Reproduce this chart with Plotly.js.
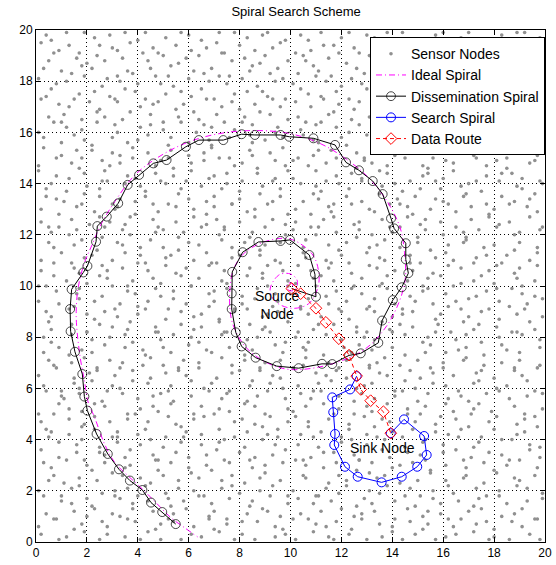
<!DOCTYPE html>
<html>
<head>
<meta charset="utf-8">
<script src="https://cdn.plot.ly/plotly-3.0.1.min.js"></script>
<style>html,body{margin:0;padding:0;background:#fff;}#chart{width:556px;height:565px;}</style>
</head>
<body>
<div id="chart"></div>
<script>
// Sensor nodes (one line per row of the field, bottom to top)
const sensorX = [
0.2,0.9,1.2,1.9,2.5,2.8,3.5,4.1,4.4,4.9,5.7,6.1,6.5,7.2,7.8,8.1,8.6,9.4,9.8,10.2,10.9,11.5,11.7,12.3,13.0,13.6,14.0,14.4,14.9,15.7,16.1,16.5,17.2,17.8,18.0,18.6,19.4,19.8,
0.1,0.8,1.5,1.8,2.6,2.8,3.6,3.9,4.7,4.9,5.4,6.2,6.8,7.0,7.5,8.1,8.7,9.4,9.7,10.1,11.0,11.4,11.8,12.4,12.8,13.5,14.0,14.7,15.2,15.4,16.2,16.4,17.3,17.7,18.0,18.7,19.1,19.7,
0.4,0.7,1.5,2.0,2.3,3.0,3.3,3.8,4.6,5.2,5.4,5.9,6.8,7.0,7.5,8.3,8.9,9.1,9.6,10.4,10.7,11.2,12.0,12.5,12.8,13.3,14.1,14.6,15.2,15.4,15.9,16.7,17.0,17.5,18.3,18.8,19.1,19.6,
0.3,1.0,1.4,2.0,2.2,3.1,3.3,3.8,4.4,5.2,5.3,5.8,6.6,6.9,7.6,8.4,8.5,9.2,9.9,10.3,10.9,11.1,11.6,12.6,12.9,13.2,14.1,14.5,14.9,15.6,15.9,16.6,17.2,17.4,18.2,18.5,19.3,19.9,
0.1,1.0,1.4,1.7,2.6,3.1,3.6,4.0,4.3,5.1,5.6,6.2,6.4,7.3,7.7,8.0,8.8,9.3,9.9,10.1,11.0,11.4,11.9,12.2,13.1,13.5,13.8,14.7,15.1,15.6,16.2,16.4,17.3,17.7,18.2,18.9,19.3,19.9,
0.5,0.7,1.1,1.7,2.4,3.0,3.4,4.1,4.5,5.0,5.6,6.1,6.4,7.3,7.7,8.2,8.8,9.0,9.6,10.5,10.6,11.5,11.9,12.2,13.1,13.4,13.7,14.3,15.0,15.5,16.1,16.8,16.9,17.6,18.1,18.8,19.0,19.6,
0.3,0.6,1.2,2.0,2.2,2.7,3.5,3.7,4.7,4.8,5.3,6.0,6.7,6.9,7.6,8.4,8.5,9.0,9.7,10.5,10.6,11.3,11.8,12.6,12.7,13.2,14.0,14.3,14.8,15.5,16.1,16.8,16.9,17.6,18.0,18.5,19.0,19.7,
0.2,0.9,1.6,1.9,2.5,2.7,3.5,3.7,4.6,4.8,5.5,6.0,6.7,7.1,7.4,8.0,8.6,9.3,9.8,10.2,10.8,11.3,11.7,12.5,12.7,13.6,13.9,14.6,15.1,15.3,16.0,16.5,17.1,17.8,18.3,18.6,19.4,19.8,
0.5,0.9,1.6,1.8,2.5,3.0,3.2,4.1,4.5,5.0,5.7,5.8,6.5,7.2,7.4,8.2,8.9,9.4,9.5,10.3,10.9,11.1,12.0,12.4,13.0,13.4,13.7,14.5,15.2,15.3,16.0,16.6,17.2,17.4,18.3,18.7,19.4,19.8,
0.4,0.6,1.3,1.8,2.3,3.2,3.2,4.0,4.3,5.1,5.7,5.9,6.5,7.2,7.8,8.3,8.9,9.1,9.5,10.4,10.7,11.2,12.0,12.3,13.0,13.3,14.0,14.4,14.8,15.7,16.2,16.7,17.0,17.5,18.0,18.9,19.2,19.7,
0.2,0.7,1.3,1.9,2.3,2.9,3.6,3.9,4.4,5.2,5.5,6.2,6.6,7.0,7.8,8.1,8.6,9.2,9.9,10.2,10.7,11.5,11.7,12.3,12.9,13.6,13.9,14.6,14.9,15.7,15.9,16.5,17.1,17.8,18.1,18.9,19.2,19.6,
0.1,0.9,1.3,1.8,2.3,2.7,3.6,4.1,4.6,4.8,5.3,6.2,6.5,7.2,7.6,8.2,8.6,9.0,9.9,10.1,10.6,11.3,11.9,12.5,13.0,13.2,13.8,14.6,15.1,15.3,16.1,16.4,17.2,17.4,17.9,18.8,19.2,19.9,
0.4,1.0,1.1,1.7,2.6,2.8,3.4,4.0,4.6,4.9,5.4,6.1,6.8,7.3,7.5,8.3,8.7,9.1,9.8,10.4,10.8,11.2,11.9,12.5,12.8,13.3,14.1,14.4,15.0,15.4,16.2,16.7,17.0,17.7,18.2,18.6,19.3,19.9,
0.3,1.0,1.5,1.7,2.2,3.0,3.3,3.8,4.4,5.2,5.3,6.1,6.6,6.9,7.6,8.4,8.5,9.2,9.7,10.3,10.9,11.1,11.6,12.6,12.9,13.2,14.1,14.5,14.9,15.6,16.1,16.6,17.2,17.4,18.1,18.5,19.3,19.6,
0.1,0.8,1.5,2.1,2.4,3.1,3.3,3.8,4.5,5.1,5.6,5.9,6.4,7.1,7.7,8.0,8.8,9.3,9.6,10.1,11.0,11.4,11.8,12.2,13.1,13.5,13.8,14.7,15.1,15.6,16.0,16.4,17.3,17.5,18.0,18.8,19.1,19.7,
0.5,0.7,1.4,1.9,2.4,2.9,3.4,4.2,4.5,5.0,5.6,5.8,6.4,7.3,7.7,8.2,8.8,9.0,9.6,10.5,10.6,11.5,11.9,12.2,13.1,13.4,13.7,14.3,15.0,15.5,16.0,16.8,16.9,17.6,18.3,18.8,19.0,19.8,
0.3,0.9,1.3,1.8,2.2,2.7,3.5,4.2,4.3,5.0,5.3,6.0,6.7,6.9,7.6,8.2,8.5,9.4,9.7,10.5,10.6,11.3,12.1,12.4,12.7,13.2,14.0,14.5,15.3,15.5,16.1,16.6,16.9,17.6,18.3,18.5,19.0,19.8,
0.3,0.6,1.4,2.0,2.2,2.9,3.5,3.8,4.7,4.9,5.4,6.1,6.4,7.3,7.5,8.3,8.7,9.2,9.8,10.2,10.7,11.4,12.0,12.6,12.9,13.3,14.0,14.5,15.2,15.4,16.3,16.5,16.9,17.5,18.2,18.9,19.1,19.8,
0.5,0.6,1.4,2.0,2.5,3.0,3.6,3.7,4.7,4.8,5.7,6.2,6.5,7.2,7.4,8.4,8.9,9.0,9.9,10.3,10.9,11.1,11.7,12.6,13.0,13.6,13.9,14.3,14.8,15.7,15.8,16.8,17.2,17.4,18.1,18.7,19.4,19.6,
0.4,0.6,1.3,2.0,2.3,2.7,3.2,4.0,4.3,5.1,5.7,6.2,6.5,7.2,7.8,8.3,8.9,9.1,9.5,10.4,10.7,11.2,12.0,12.3,13.0,13.3,14.0,14.4,14.8,15.7,15.9,16.7,17.0,17.5,18.2,18.9,19.2,19.9,
0.1,0.9,1.5,1.7,2.3,3.1,3.3,4.0,4.4,5.2,5.4,5.9,6.8,7.0,7.8,8.1,8.6,9.3,9.5,10.4,10.7,11.5,11.9,12.2,13.1,13.3,14.1,14.4,14.9,15.6,16.2,16.5,17.0,17.8,18.2,18.6,19.3,19.9,
0.1,0.8,1.6,1.7,2.6,3.0,3.6,3.9,4.7,4.9,5.4,6.1,6.8,7.0,7.5,8.1,8.7,9.4,9.9,10.1,11.0,11.4,11.8,12.4,12.8,13.5,13.8,14.7,15.2,15.4,16.1,16.4,17.3,17.7,18.1,18.7,19.1,19.6,
0.4,0.7,1.2,2.0,2.5,2.8,3.6,3.8,4.6,4.9,5.7,6.1,6.4,7.3,7.5,8.3,8.9,9.1,9.9,10.2,10.9,11.2,11.7,12.5,12.8,13.6,13.8,14.6,15.2,15.4,15.9,16.7,17.2,17.5,18.0,18.9,19.1,19.6,
0.2,0.7,1.5,1.7,2.6,2.8,3.4,4.0,4.4,5.1,5.5,5.9,6.8,7.1,7.4,8.4,8.9,9.1,9.7,10.3,10.8,11.5,11.6,12.4,13.1,13.4,14.1,14.7,14.8,15.6,16.2,16.7,17.2,17.8,18.1,18.8,19.0,19.7,
0.2,1.0,1.4,1.9,2.2,3.0,3.5,4.1,4.3,5.1,5.3,6.2,6.7,6.9,7.7,8.0,8.8,9.4,9.6,10.5,10.6,11.4,12.0,12.3,13.0,13.5,13.7,14.7,15.1,15.7,16.1,16.4,17.3,17.7,18.3,18.5,19.4,19.7,
0.5,0.7,1.5,1.8,2.4,3.2,3.4,4.1,4.5,5.0,5.6,6.0,6.4,7.3,7.7,8.2,8.8,9.0,9.6,10.5,10.6,11.5,11.9,12.2,13.1,13.4,13.7,14.3,15.0,15.5,16.2,16.8,16.9,17.6,18.0,18.8,19.0,19.7,
0.5,0.6,1.3,1.6,2.6,2.7,3.4,3.7,4.7,5.0,5.6,5.8,6.5,7.2,7.4,8.4,8.5,9.0,9.8,10.1,11.0,11.1,11.8,12.6,12.7,13.2,14.0,14.3,15.0,15.3,16.0,16.8,16.9,17.4,18.1,18.8,19.0,19.8,
0.2,0.9,1.4,2.1,2.5,2.9,3.5,3.7,4.6,4.8,5.5,6.2,6.7,7.1,7.4,8.0,8.6,9.3,9.8,10.2,10.8,11.3,11.7,12.5,12.7,13.6,13.9,14.6,15.1,15.3,15.9,16.5,17.1,17.8,18.2,18.6,19.4,19.9,
0.2,0.9,1.6,1.8,2.3,3.1,3.2,3.9,4.6,4.8,5.5,6.2,6.7,7.0,7.7,8.3,8.6,9.1,9.9,10.2,10.8,11.5,11.6,12.4,13.1,13.3,13.9,14.6,14.8,15.5,16.2,16.5,17.1,17.8,18.0,18.6,19.3,19.7,
0.4,0.8,1.1,1.9,2.5,3.0,3.3,3.9,4.3,5.2,5.6,6.0,6.7,7.0,7.7,8.0,8.8,9.3,9.6,10.5,10.9,11.1,11.7,12.2,12.8,13.5,14.2,14.3,14.9,15.7,16.0,16.8,16.9,17.7,18.3,18.8,19.4,19.6,
0.4,0.6,1.2,2.0,2.5,2.8,3.5,4.1,4.3,5.1,5.7,5.9,6.5,7.3,7.5,8.0,8.9,9.3,9.6,10.4,11.0,11.2,11.9,12.3,12.8,13.6,14.1,14.4,15.1,15.7,15.9,16.7,17.0,17.5,18.2,18.9,19.1,19.9,
0.1,0.8,1.3,1.9,2.6,2.7,3.6,3.9,4.7,4.9,5.4,6.1,6.8,7.0,7.5,8.1,8.7,9.4,9.9,10.1,11.0,11.4,11.8,12.4,12.8,13.5,13.8,14.7,15.2,15.4,16.0,16.4,17.3,17.7,18.3,18.7,19.1,19.8,
0.1,0.8,1.4,1.7,2.6,2.9,3.3,3.8,4.7,4.9,5.4,6.1,6.6,7.2,7.8,8.1,8.7,9.4,9.8,10.1,10.7,11.4,11.8,12.6,12.9,13.2,13.8,14.5,15.2,15.4,16.1,16.4,17.3,17.7,18.1,18.5,19.4,19.6,
0.3,1.0,1.6,1.8,2.2,3.0,3.3,3.8,4.4,5.2,5.3,6.0,6.6,6.9,7.6,8.4,8.5,9.2,9.7,10.3,10.9,11.1,11.6,12.6,12.9,13.2,14.1,14.5,14.9,15.6,16.2,16.6,17.2,17.4,18.0,18.5,19.3,19.7,
0.3,1.0,1.5,1.9,2.2,3.0,3.6,4.0,4.4,5.2,5.3,6.0,6.8,6.9,7.6,8.4,8.5,9.0,9.7,10.5,10.9,11.1,12.0,12.2,13.0,13.5,14.0,14.7,14.9,15.6,16.0,16.8,17.2,17.4,18.3,18.7,19.0,19.8,
0.1,1.0,1.2,1.8,2.4,3.1,3.2,4.1,4.5,5.0,5.7,6.3,6.6,6.9,7.8,8.1,8.5,9.4,9.5,10.4,11.0,11.2,11.8,12.3,12.7,13.6,13.8,14.4,15.0,15.5,15.8,16.6,17.2,17.6,18.0,18.9,19.3,19.5,
0.5,0.7,1.1,1.8,2.4,2.7,3.4,3.7,4.5,5.0,5.6,6.2,6.4,7.1,7.4,8.2,8.8,9.2,9.9,10.3,10.6,11.5,11.7,12.4,13.1,13.4,13.7,14.3,15.0,15.5,16.2,16.6,16.9,17.6,18.0,18.8,19.3,19.7,
0.2,0.9,1.3,2.1,2.5,3.1,3.2,4.1,4.6,4.8,5.5,5.8,6.7,7.3,7.7,8.0,8.6,9.3,9.6,10.2,10.8,11.3,11.9,12.5,12.7,13.6,14.1,14.6,15.1,15.3,15.9,16.5,17.1,17.8,18.2,18.6,19.2,19.9,
0.4,0.6,1.5,1.7,2.3,2.9,3.5,3.9,4.3,5.1,5.7,6.1,6.5,7.0,7.8,8.3,8.9,9.1,9.8,10.4,10.7,11.2,11.8,12.3,13.0,13.3,13.9,14.4,14.8,15.7,16.1,16.7,17.0,17.5,18.1,18.9,19.4,19.6,
0.1,0.8,1.2,1.9,2.6,2.8,3.3,4.0,4.7,4.9,5.4,6.0,6.8,7.2,7.5,8.1,8.7,9.4,9.7,10.1,11.0,11.4,12.0,12.4,12.8,13.5,13.8,14.7,15.2,15.4,16.0,16.4,17.3,17.7,18.3,18.5,19.1,19.8,
0.3,1.0,1.4,1.8,2.2,3.2,3.6,3.8,4.5,5.2,5.3,6.2,6.6,6.9,7.6,8.4,8.5,9.2,9.5,10.3,10.9,11.1,11.6,12.6,12.9,13.2,14.0,14.5,14.9,15.6,16.2,16.6,17.2,17.4,18.0,18.7,19.3,19.7,
0.5,0.7,1.6,2.0,2.4,2.7,3.4,4.2,4.4,5.0,5.6,5.9,6.4,7.3,7.7,8.2,8.8,9.0,9.9,10.5,10.6,11.5,11.9,12.2,13.1,13.4,14.1,14.3,15.0,15.5,15.9,16.8,16.9,17.6,18.2,18.8,19.0,19.9,
0.2,0.9,1.3,1.7,2.5,3.0,3.2,3.7,4.6,4.8,5.5,6.1,6.7,7.1,7.4,8.0,8.6,9.3,9.6,10.2,10.8,11.3,11.7,12.5,12.7,13.6,13.9,14.6,15.1,15.3,16.1,16.5,17.1,17.8,18.1,18.6,19.4,19.6,
0.4,0.6,1.2,1.9,2.3,2.9,3.5,4.0,4.3,5.1,5.7,6.0,6.5,7.2,7.8,8.3,8.9,9.1,9.8,10.4,10.7,11.2,12.0,12.3,13.0,13.3,13.8,14.4,14.8,15.7,16.0,16.7,17.0,17.5,18.3,18.9,19.2,19.8
];
const sensorY = [
0.3,0.1,0.2,0.4,0.1,0.3,0.2,0.1,0.4,0.1,0.1,0.3,0.2,0.4,0.1,0.3,0.1,0.2,0.3,0.1,0.4,0.2,0.1,0.3,0.1,0.2,0.4,0.1,0.3,0.1,0.2,0.3,0.4,0.1,0.2,0.1,0.3,0.1,
0.6,0.9,0.5,0.7,0.8,0.6,0.9,0.8,0.5,0.7,0.8,0.6,0.9,0.5,0.7,0.8,0.8,0.6,0.5,0.9,0.7,0.6,0.8,0.5,0.9,0.7,0.6,0.8,0.5,0.7,0.9,0.6,0.7,0.8,0.5,0.8,0.6,0.9,
1.1,0.9,1.2,1.0,1.3,1.1,1.0,1.3,1.2,0.9,1.1,1.3,1.0,1.2,0.9,1.1,1.3,1.2,1.0,1.1,0.9,1.2,1.3,1.0,1.1,1.2,0.9,1.3,1.0,1.2,1.1,0.9,1.2,1.3,1.0,1.1,1.3,0.9,
1.8,1.6,1.5,1.7,1.4,1.8,1.7,1.5,1.6,1.7,1.4,1.6,1.8,1.5,1.7,1.4,1.6,1.8,1.5,1.7,1.5,1.8,1.6,1.4,1.7,1.5,1.6,1.8,1.4,1.7,1.5,1.6,1.4,1.7,1.8,1.5,1.6,1.7,
2.0,1.8,2.1,2.2,1.9,2.0,2.1,1.8,2.2,1.9,2.1,2.0,1.8,2.1,2.2,1.9,2.0,2.2,1.8,2.0,1.8,2.1,1.9,2.2,2.0,1.9,2.2,2.1,1.8,2.0,2.2,1.9,2.1,1.8,2.0,2.2,2.1,1.9,
2.4,2.6,2.3,2.5,2.4,2.7,2.6,2.5,2.3,2.6,2.4,2.7,2.5,2.4,2.6,2.3,2.5,2.7,2.4,2.6,2.5,2.3,2.6,2.4,2.7,2.5,2.6,2.3,2.4,2.7,2.4,2.5,2.6,2.3,2.7,2.5,2.4,2.6,
3.1,2.9,3.2,3.0,2.8,3.1,2.9,3.0,3.2,2.8,3.1,2.9,3.0,2.8,3.1,3.2,2.9,3.0,3.1,3.2,3.0,2.9,3.1,2.8,3.2,3.1,2.9,3.0,3.1,2.8,3.0,3.2,2.9,3.1,2.8,3.0,3.2,2.9,
3.6,3.3,3.5,3.2,3.5,3.4,3.3,3.6,3.4,3.2,3.5,3.3,3.4,3.6,3.2,3.5,3.3,3.4,3.6,3.2,3.3,3.5,3.5,3.4,3.2,3.6,3.3,3.5,3.4,3.2,3.5,3.6,3.3,3.5,3.4,3.2,3.6,3.3,
4.1,3.9,3.8,4.0,3.7,4.1,3.9,3.8,4.0,3.7,3.9,4.1,3.8,3.9,4.0,3.7,4.0,3.8,4.1,3.8,4.1,3.7,3.9,4.0,3.8,4.1,4.0,3.7,3.9,4.0,3.8,4.1,3.7,3.9,4.0,4.0,3.8,3.7,
4.4,4.3,4.2,4.5,4.4,4.1,4.3,4.2,4.4,4.1,4.5,4.3,4.2,4.4,4.1,4.3,4.5,4.2,4.4,4.2,4.5,4.3,4.1,4.4,4.2,4.5,4.3,4.1,4.4,4.3,4.2,4.4,4.5,4.1,4.4,4.2,4.3,4.5,
4.7,5.0,4.8,4.6,4.9,4.7,4.8,5.0,4.7,4.9,4.6,4.8,4.9,5.0,4.7,4.8,4.6,4.9,4.7,4.9,4.7,4.8,5.0,4.6,4.9,4.8,4.7,5.0,4.7,4.6,4.9,4.8,5.0,4.7,4.9,4.6,4.8,4.9,
5.0,5.4,5.2,5.1,5.4,5.3,5.0,5.2,5.3,5.1,5.4,5.0,5.3,5.2,5.1,5.4,5.3,5.0,5.2,5.1,5.3,5.4,5.2,5.0,5.3,5.1,5.4,5.2,5.0,5.3,5.4,5.1,5.2,5.4,5.1,5.3,5.0,5.2,
5.9,5.7,5.6,5.8,5.5,5.9,5.8,5.6,5.7,5.8,5.5,5.7,5.9,5.6,5.8,5.5,5.7,5.9,5.6,5.8,5.6,5.9,5.7,5.5,5.8,5.6,5.7,5.9,5.5,5.8,5.6,5.7,5.5,5.8,5.9,5.6,5.7,5.8,
6.1,5.9,6.2,6.0,6.3,6.1,6.0,6.3,6.2,5.9,6.1,6.3,6.0,6.2,5.9,6.1,6.3,6.2,6.0,6.1,5.9,6.2,6.3,6.0,6.1,6.2,5.9,6.3,6.0,6.2,6.1,5.9,6.2,6.3,6.0,6.1,6.3,5.9,
6.5,6.8,6.4,6.6,6.7,6.5,6.8,6.7,6.4,6.6,6.7,6.5,6.8,6.4,6.6,6.7,6.7,6.5,6.4,6.8,6.6,6.5,6.7,6.4,6.8,6.6,6.5,6.7,6.4,6.6,6.8,6.5,6.6,6.7,6.4,6.7,6.5,6.8,
7.1,6.9,7.0,7.2,6.8,7.1,7.0,6.9,7.2,6.9,6.8,7.1,7.0,7.2,6.9,7.1,6.8,7.0,7.1,6.9,7.2,7.0,6.8,7.1,6.9,7.0,7.2,6.9,7.1,6.8,7.0,7.1,7.2,6.9,7.0,6.8,7.1,6.9,
7.4,7.6,7.3,7.5,7.4,7.7,7.6,7.5,7.3,7.6,7.4,7.7,7.5,7.4,7.6,7.3,7.5,7.7,7.4,7.6,7.5,7.3,7.6,7.4,7.7,7.5,7.6,7.3,7.4,7.7,7.4,7.5,7.6,7.3,7.7,7.5,7.4,7.6,
8.0,7.8,8.1,8.2,7.9,8.0,8.1,7.8,8.2,7.9,8.1,8.0,7.8,8.1,8.2,7.9,8.0,8.2,7.8,8.0,7.8,8.1,7.9,8.2,8.0,7.9,8.2,8.1,7.8,8.0,8.2,7.9,8.1,7.8,8.0,8.2,8.1,7.9,
8.6,8.3,8.5,8.2,8.5,8.4,8.3,8.6,8.4,8.2,8.5,8.3,8.4,8.6,8.2,8.5,8.3,8.4,8.6,8.2,8.3,8.5,8.5,8.4,8.2,8.6,8.3,8.5,8.4,8.2,8.5,8.6,8.3,8.5,8.4,8.2,8.6,8.3,
9.0,8.8,9.1,8.9,8.7,9.0,8.8,8.9,9.1,8.7,9.0,8.8,8.9,8.7,9.0,9.1,8.8,8.9,9.0,9.1,8.9,8.8,9.0,8.7,9.1,9.0,8.8,8.9,9.0,8.7,8.9,9.1,8.8,9.0,8.7,8.9,9.1,8.8,
9.4,9.3,9.2,9.5,9.4,9.1,9.3,9.2,9.4,9.1,9.5,9.3,9.2,9.4,9.1,9.3,9.5,9.2,9.4,9.2,9.5,9.3,9.1,9.4,9.2,9.5,9.3,9.1,9.4,9.3,9.2,9.4,9.5,9.1,9.4,9.2,9.3,9.5,
10.0,9.8,9.7,9.9,9.6,10.0,9.8,9.7,9.9,9.6,9.8,10.0,9.7,9.8,9.9,9.6,9.9,9.7,10.0,9.7,10.0,9.6,9.8,9.9,9.7,10.0,9.9,9.6,9.8,9.9,9.7,10.0,9.6,9.8,9.9,9.9,9.7,9.6,
10.0,10.4,10.2,10.1,10.4,10.3,10.0,10.2,10.3,10.1,10.4,10.0,10.3,10.2,10.1,10.4,10.3,10.0,10.2,10.1,10.3,10.4,10.2,10.0,10.3,10.1,10.4,10.2,10.0,10.3,10.4,10.1,10.2,10.4,10.1,10.3,10.0,10.2,
10.6,10.9,10.7,10.5,10.8,10.6,10.7,10.9,10.6,10.8,10.5,10.7,10.8,10.9,10.6,10.7,10.5,10.8,10.6,10.8,10.6,10.7,10.9,10.5,10.8,10.7,10.6,10.9,10.6,10.5,10.8,10.7,10.9,10.6,10.8,10.5,10.7,10.8,
11.0,11.3,10.9,11.1,11.2,11.0,11.3,11.2,10.9,11.1,11.2,11.0,11.3,10.9,11.1,11.2,11.2,11.0,10.9,11.3,11.1,11.0,11.2,10.9,11.3,11.1,11.0,11.2,10.9,11.1,11.3,11.0,11.1,11.2,10.9,11.2,11.0,11.3,
11.7,11.5,11.6,11.8,11.4,11.7,11.6,11.5,11.8,11.5,11.4,11.7,11.6,11.8,11.5,11.7,11.4,11.6,11.7,11.5,11.8,11.6,11.4,11.7,11.5,11.6,11.8,11.5,11.7,11.4,11.6,11.7,11.8,11.5,11.6,11.4,11.7,11.5,
12.3,12.1,12.0,12.2,11.9,12.3,12.2,12.0,12.1,12.2,11.9,12.1,12.3,12.0,12.2,11.9,12.1,12.3,12.0,12.2,12.0,12.3,12.1,11.9,12.2,12.0,12.1,12.3,11.9,12.2,12.0,12.1,11.9,12.2,12.3,12.0,12.1,12.2,
12.5,12.3,12.6,12.4,12.7,12.5,12.4,12.7,12.6,12.3,12.5,12.7,12.4,12.6,12.3,12.5,12.7,12.6,12.4,12.5,12.3,12.6,12.7,12.4,12.5,12.6,12.3,12.7,12.4,12.6,12.5,12.3,12.6,12.7,12.4,12.5,12.7,12.3,
13.0,12.8,13.1,13.2,12.9,13.0,13.1,12.8,13.2,12.9,13.1,13.0,12.8,13.1,13.2,12.9,13.0,13.2,12.8,13.0,12.8,13.1,12.9,13.2,13.0,12.9,13.2,13.1,12.8,13.0,13.2,12.9,13.1,12.8,13.0,13.2,13.1,12.9,
13.5,13.4,13.3,13.6,13.5,13.2,13.4,13.3,13.5,13.2,13.6,13.4,13.3,13.5,13.2,13.4,13.6,13.3,13.5,13.3,13.6,13.4,13.2,13.5,13.3,13.6,13.4,13.2,13.5,13.4,13.3,13.5,13.6,13.2,13.5,13.3,13.4,13.6,
13.8,14.0,13.7,13.9,13.8,14.1,14.0,13.9,13.7,14.0,13.8,14.1,13.9,13.8,14.0,13.7,13.9,14.1,13.8,14.0,13.9,13.7,14.0,13.8,14.1,13.9,14.0,13.7,13.8,14.1,13.8,13.9,14.0,13.7,14.1,13.9,13.8,14.0,
14.5,14.3,14.2,14.4,14.1,14.5,14.3,14.2,14.4,14.1,14.3,14.5,14.2,14.3,14.4,14.1,14.4,14.2,14.5,14.2,14.5,14.1,14.3,14.4,14.2,14.5,14.4,14.1,14.3,14.4,14.2,14.5,14.1,14.3,14.4,14.4,14.2,14.1,
14.7,15.0,14.8,14.6,14.9,14.7,14.8,15.0,14.7,14.9,14.6,14.8,14.9,15.0,14.7,14.8,14.6,14.9,14.7,14.9,14.7,14.8,15.0,14.6,14.9,14.8,14.7,15.0,14.7,14.6,14.9,14.8,15.0,14.7,14.9,14.6,14.8,14.9,
15.4,15.1,15.3,15.0,15.3,15.2,15.1,15.4,15.2,15.0,15.3,15.1,15.2,15.4,15.0,15.3,15.1,15.2,15.4,15.0,15.1,15.3,15.3,15.2,15.0,15.4,15.1,15.3,15.2,15.0,15.3,15.4,15.1,15.3,15.2,15.0,15.4,15.1,
15.8,15.6,15.9,15.7,15.5,15.8,15.6,15.7,15.9,15.5,15.8,15.6,15.7,15.5,15.8,15.9,15.6,15.7,15.8,15.9,15.7,15.6,15.8,15.5,15.9,15.8,15.6,15.7,15.8,15.5,15.7,15.9,15.6,15.8,15.5,15.7,15.9,15.6,
16.0,16.4,16.2,16.1,16.4,16.3,16.0,16.2,16.3,16.1,16.4,16.0,16.3,16.2,16.1,16.4,16.3,16.0,16.2,16.1,16.3,16.4,16.2,16.0,16.3,16.1,16.4,16.2,16.0,16.3,16.4,16.1,16.2,16.4,16.1,16.3,16.0,16.2,
16.6,16.4,16.7,16.5,16.8,16.6,16.5,16.8,16.7,16.4,16.6,16.8,16.5,16.7,16.4,16.6,16.8,16.7,16.5,16.6,16.4,16.7,16.8,16.5,16.6,16.7,16.4,16.8,16.5,16.7,16.6,16.4,16.7,16.8,16.5,16.6,16.8,16.4,
17.3,17.1,17.0,17.2,16.9,17.3,17.2,17.0,17.1,17.2,16.9,17.1,17.3,17.0,17.2,16.9,17.1,17.3,17.0,17.2,17.0,17.3,17.1,16.9,17.2,17.0,17.1,17.3,16.9,17.2,17.0,17.1,16.9,17.2,17.3,17.0,17.1,17.2,
17.4,17.7,17.3,17.5,17.6,17.4,17.7,17.6,17.3,17.5,17.6,17.4,17.7,17.3,17.5,17.6,17.6,17.4,17.3,17.7,17.5,17.4,17.6,17.3,17.7,17.5,17.4,17.6,17.3,17.5,17.7,17.4,17.5,17.6,17.3,17.6,17.4,17.7,
18.1,17.9,18.0,18.2,17.8,18.1,18.0,17.9,18.2,17.9,17.8,18.1,18.0,18.2,17.9,18.1,17.8,18.0,18.1,17.9,18.2,18.0,17.8,18.1,17.9,18.0,18.2,17.9,18.1,17.8,18.0,18.1,18.2,17.9,18.0,17.8,18.1,17.9,
18.5,18.4,18.3,18.6,18.5,18.2,18.4,18.3,18.5,18.2,18.6,18.4,18.3,18.5,18.2,18.4,18.6,18.3,18.5,18.3,18.6,18.4,18.2,18.5,18.3,18.6,18.4,18.2,18.5,18.4,18.3,18.5,18.6,18.2,18.5,18.3,18.4,18.6,
18.8,19.1,18.9,18.7,19.0,18.8,18.9,19.1,18.8,19.0,18.7,18.9,19.0,19.1,18.8,18.9,18.7,19.0,18.8,19.0,18.8,18.9,19.1,18.7,19.0,18.9,18.8,19.1,18.8,18.7,19.0,18.9,19.1,18.8,19.0,18.7,18.9,19.0,
19.5,19.2,19.4,19.1,19.4,19.3,19.2,19.5,19.3,19.1,19.4,19.2,19.3,19.5,19.1,19.4,19.2,19.3,19.5,19.1,19.2,19.4,19.4,19.3,19.1,19.5,19.2,19.4,19.3,19.1,19.4,19.5,19.2,19.4,19.3,19.1,19.5,19.2,
19.8,19.6,19.9,19.9,19.7,19.8,19.9,19.6,19.9,19.7,19.9,19.8,19.6,19.9,19.9,19.7,19.8,19.9,19.6,19.8,19.6,19.9,19.7,19.9,19.8,19.7,19.9,19.9,19.6,19.8,19.9,19.7,19.9,19.6,19.8,19.9,19.9,19.7
];

// Ideal spiral
const idealX = [10.10,10.08,10.00,9.90,9.85,9.88,10.00,10.16,10.26,10.25,10.00,9.56,9.20,9.40,10.05,10.70,11.08,11.10,10.85,10.00,9.05,8.20,7.78,7.62,7.72,8.40,9.70,11.20,12.80,13.60,14.15,14.50,14.48,14.30,13.80,13.10,12.20,11.20,10.00,8.80,7.50,6.20,5.00,3.90,3.10,2.55,2.20,1.90,1.65,1.58,1.60,1.73,1.90,2.06,2.29,2.71,3.10,3.60,4.20,4.75,5.30,5.85,6.35];
const idealY = [10.00,10.08,10.12,10.10,10.00,9.88,9.81,9.84,10.00,10.25,10.47,10.44,9.88,9.40,9.13,9.30,9.95,10.60,11.25,11.83,11.75,11.30,10.70,9.90,8.55,7.45,6.78,6.85,7.45,8.20,9.10,10.20,11.30,12.30,13.30,14.20,14.95,15.55,15.95,16.07,16.00,15.70,15.15,14.35,13.30,12.40,11.60,10.90,9.90,9.00,8.40,7.25,6.30,5.42,4.90,3.79,3.10,2.60,2.05,1.50,0.95,0.55,0.20];

// Dissemination spiral (first point = source, no marker)
const dissX = [10.05,11.00,10.96,10.74,9.98,9.61,8.74,8.12,7.71,7.69,7.69,7.85,8.08,8.63,9.46,10.32,11.24,11.64,12.30,12.76,13.45,13.60,14.02,14.37,14.63,14.53,14.53,14.07,13.95,13.62,13.23,12.69,12.18,11.75,10.90,9.95,9.61,8.60,8.08,7.36,6.40,5.89,5.13,4.61,4.05,3.60,3.23,2.78,2.41,2.36,2.02,1.86,1.40,1.34,1.36,1.53,1.82,1.90,2.02,2.38,2.82,3.26,3.69,4.18,4.52,4.96,5.49];
const dissY = [9.90,9.58,10.46,11.21,11.80,11.76,11.72,11.32,10.55,9.71,9.10,8.19,7.64,7.20,6.87,6.79,6.96,6.95,7.29,7.37,7.78,8.65,9.45,9.95,10.50,11.04,11.67,12.25,12.64,13.59,14.10,14.52,14.83,15.51,15.77,15.83,15.90,15.90,15.93,15.70,15.70,15.44,14.92,14.79,14.34,13.95,13.23,12.71,12.34,11.73,10.78,10.53,9.87,9.10,8.23,7.43,6.56,5.68,5.13,4.22,3.44,2.84,2.40,2.03,1.54,1.17,0.70];

// Search spiral (from the sink outward)
const searchX = [13.94,14.46,15.25,15.35,14.98,14.37,13.58,12.64,12.14,11.72,11.75,11.68,11.64,12.34,12.60];
const searchY = [4.25,4.79,4.14,3.40,2.94,2.55,2.33,2.55,2.94,3.79,4.22,5.07,5.65,5.96,6.48];

// Data route (source to sink)
const routeX = [10.05,10.40,11.00,11.39,11.90,12.30,12.60,12.76,13.15,13.65,13.94];
const routeY = [9.90,9.70,9.13,8.58,7.94,7.30,6.48,5.96,5.52,5.09,4.25];

const tickVals = [0,2,4,6,8,10,12,14,16,18,20];
const seriesNames = ['Sensor Nodes','Ideal Spiral','Dissemination Spiral','Search Spiral','Data Route'];
const labelTexts = ['Source<br>Node','Sink Node'];
const labelX = [9.49,13.62];
const labelY = [9.25,3.68];

const FONT = 'Liberation Sans, Arial, Helvetica, sans-serif';

const dissSizes = dissX.map((_, i) => i === 0 ? 0 : 9);

const traces = [
  {type:'scatter', mode:'markers', name:seriesNames[0], x:sensorX, y:sensorY,
   marker:{symbol:'circle', size:3.6, color:'#909090', line:{width:0}}, hoverinfo:'skip'},
  {type:'scatter', mode:'lines', name:seriesNames[1], x:idealX, y:idealY,
   line:{color:'#ff00ff', width:1, dash:'6px,3px,1px,3px', shape:'spline', smoothing:1}},
  {type:'scatter', mode:'lines+markers', name:seriesNames[2], x:dissX, y:dissY,
   line:{color:'#000000', width:1},
   marker:{symbol:'circle-open', size:dissSizes, color:'#000000', line:{width:1, color:'#000000'}}},
  {type:'scatter', mode:'lines+markers', name:seriesNames[3], x:searchX, y:searchY,
   line:{color:'#0000ff', width:1},
   marker:{symbol:'circle-open', size:9, color:'#0000ff', line:{width:1, color:'#0000ff'}}},
  {type:'scatter', mode:'lines+markers', name:seriesNames[4], x:routeX, y:routeY,
   line:{color:'#ff0000', width:1, dash:'4px,3px'},
   marker:{symbol:'diamond-open', size:9, color:'#ff0000', line:{width:1, color:'#ff0000'}}}
];

const axisCommon = {
  range:[0,20], tickvals:tickVals, ticktext:tickVals.map(String),
  ticks:'inside', ticklen:5, tickwidth:1, tickcolor:'#000',
  showline:true, linecolor:'#000', linewidth:1, mirror:'ticks',
  showgrid:true, gridcolor:'#000', gridwidth:1, griddash:'1px,3px',
  zeroline:false, fixedrange:true,
  tickfont:{family:FONT, size:12, color:'#000'}
};

const layout = {
  width:556, height:565,
  margin:{l:36, r:11, t:30, b:23, pad:0},
  paper_bgcolor:'#ffffff', plot_bgcolor:'#ffffff',
  font:{family:FONT, color:'#000'},
  title:{text:'Spiral Search Scheme', font:{family:FONT, size:13, color:'#000'},
         xref:'paper', x:0.511, xanchor:'center', yref:'container', y:0.979, yanchor:'middle'},
  xaxis:Object.assign({}, axisCommon),
  yaxis:Object.assign({}, axisCommon),
  showlegend:true,
  legend:{x:1, xanchor:'right', y:0.986, yanchor:'top',
          bgcolor:'#ffffff', bordercolor:'#000', borderwidth:1,
          font:{family:FONT, size:14, color:'#000'}, tracegroupgap:0},
  annotations: labelTexts.map((t, i) => ({
    x:labelX[i], y:labelY[i], xref:'x', yref:'y', text:t, showarrow:false,
    font:{family:FONT, size:14, color:'#000'}, align:'center'
  }))
};

Plotly.newPlot('chart', traces, layout, {staticPlot:true, displayModeBar:false});
</script>
</body>
</html>
